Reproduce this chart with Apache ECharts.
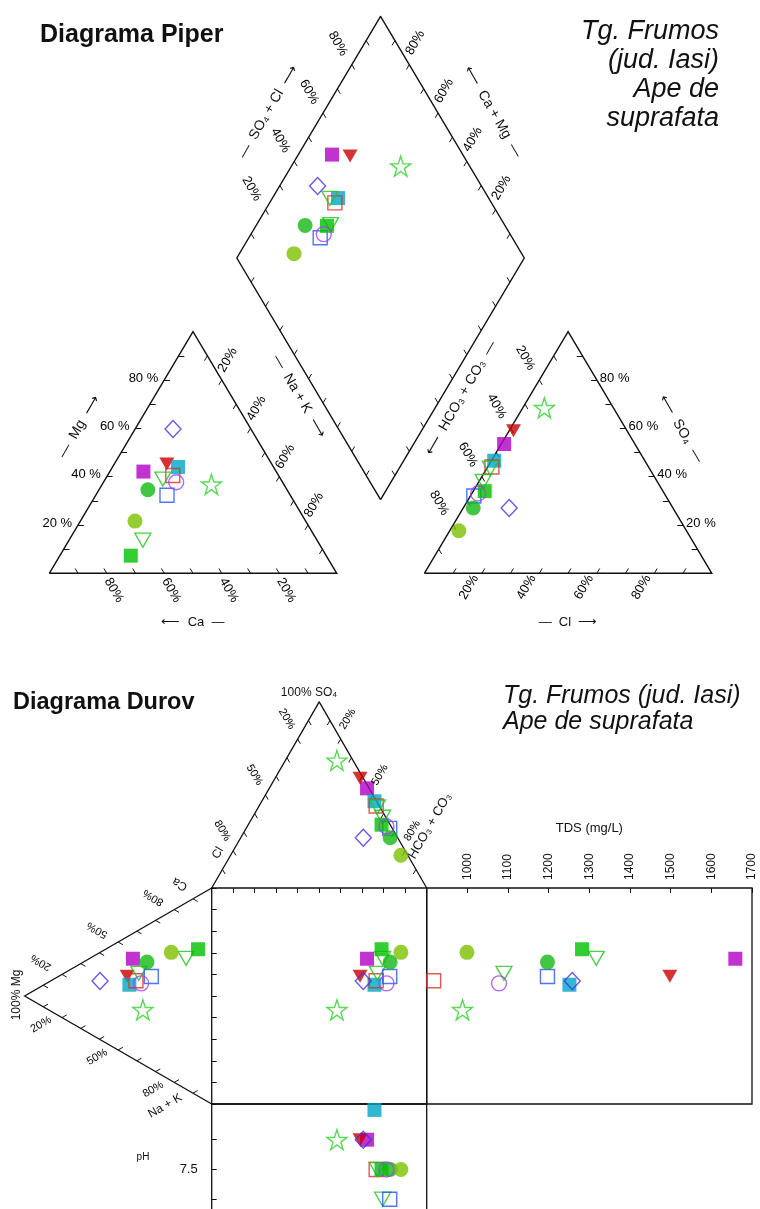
<!DOCTYPE html>
<html><head><meta charset="utf-8">
<script src="https://cdn.jsdelivr.net/npm/echarts@6/dist/echarts.min.js"></script>
<style>html,body{margin:0;padding:0;background:#fff}#c{width:760px;height:1209px}</style>
</head><body><div id="c"></div>
<script>
// ---------------- DATA ----------------
const sampleNames = ['P1','P2','P3','P4','P5','P6','P7','P8','P9','P10','P11','P12','P13'];
const caPct  = [46.2, 36.5, 33.2, 36.8, 41.0, 60.6, 42.9, 27.1, 68.0, 48.4, 59.4, 25.2, 37.0];
const mgPct  = [42.1, 45.2, 44.0, 40.5, 39.0, 13.7, 32.3, 59.7,  7.3, 34.6, 21.6, 36.8, 37.7];
const so4Pct = [53.5, 59.0, 46.6, 44.0, 43.5, 38.0, 32.0, 27.0, 34.0, 27.0, 17.6, 68.5, 33.0];
const clPct  = [ 1.0,  1.5,  1.0,  1.5,  1.2,  1.5,  1.2, 16.0,  4.0,  3.5,  3.2,  7.5,  2.2];
const tdsMgL = [1659, 1498, 1251, 917, 1090, 1317, 1197, 1258, 1282, 1197, 999, 988, 1078];
const phVal  = [7.6, 7.6, 7.7, 7.5, 7.5, 7.4, 7.4, 7.6, 7.5, 7.5, 7.5, 7.6, 7.5];
const piperTickLabels = [20, 40, 60, 80];
const durovTickLabels = [20, 50, 80];
const tenthTicks = [10, 20, 30, 40, 50, 60, 70, 80, 90];
const tdsTickLabels = [1000, 1100, 1200, 1300, 1400, 1500, 1600, 1700];
const phTickValues = [7.4, 7.5, 7.6];
const phTickLabels = [7.5];

// ---------------- STYLES ----------------
const FONT = '"Liberation Sans", Arial, Helvetica, sans-serif';
const INK = '#111111';
const STAR = 'path://M50 2 L61.8 37.6 L99 37.6 L69 59.6 L80.4 95 L50 73 L19.6 95 L31 59.6 L1 37.6 L38.2 37.6 Z';
const markerStyles = [
  {symbol:'rect', size:14, color:'#B000C4', fill:true},
  {symbol:'triangle', rot:180, size:[15,13], color:'#C80000', fill:true},
  {symbol:'rect', size:14, color:'#00A6C6', fill:true},
  {symbol:'rect', size:14, color:'#E02A2A', fill:false},
  {symbol:'triangle', rot:180, size:[16,14], color:'#22C022', fill:false},
  {symbol:'triangle', rot:180, size:[16,14], color:'#22C022', fill:false},
  {symbol:'rect', size:14, color:'#2255EE', fill:false},
  {symbol:'diamond', size:[16,17], color:'#4A2AE6', fill:false},
  {symbol:'rect', size:14, color:'#00C000', fill:true},
  {symbol:'circle', size:15, color:'#14B814', fill:true},
  {symbol:'circle', size:15, color:'#7CC000', fill:true},
  {symbol:STAR, size:20, color:'#2ED02E', fill:false},
  {symbol:'circle', size:15, color:'#A040F0', fill:false}
];

// ---------------- GEOMETRY ----------------
const GAP = 30.5;
const TH = 50 * Math.sqrt(3);
const BX = 100 + GAP / 2, BY = (GAP / 2) * Math.sqrt(3);
const PIPER_XMAX = 200 + GAP, PIPER_YMAX = BY + 2 * TH;
function pCat(ca, mg) { const nak = 100 - ca - mg; return [nak + mg / 2, mg * TH / 100]; }
function pAn(so4, cl) { return [100 + GAP + cl + so4 / 2, so4 * TH / 100]; }
function pDia(cm, sc) { const u = sc / 100, v = cm / 100; return [BX + 50 * (u - v), BY + TH * (u + v)]; }
const PG = {left: 49.3, top: 16.4, width: 662.5, height: 556.9};
const PX = PG.width / PIPER_XMAX, PY = PG.height / PIPER_YMAX;

const DPX = 2.15, DPY = 2.16;
const AH = TH * DPX / DPY;
const CW = TH * DPY / DPX;
function dAn(so4, cl) { const h = 100 - so4 - cl; return [h + so4 / 2, 100 + so4 * AH / 100]; }
function dCat(ca, mg) { return [-mg * CW / 100, ca + mg / 2]; }
const SQ_TOP = 888, SQ_BOT = 1104, SQ_LEFT = 211.7;
const DG = {left: SQ_LEFT - CW * DPX, top: SQ_BOT - (100 + AH) * DPY, width: (100 + CW) * DPX, height: (100 + AH) * DPY};

// ---------------- BUILD ----------------
const idx = sampleNames.map((_, i) => i);
function pt(i, xy) {
  const s = markerStyles[i];
  return {
    name: sampleNames[i], value: xy, symbol: s.symbol, symbolSize: s.size, symbolRotate: s.rot || 0,
    itemStyle: s.fill ? {color: s.color, borderWidth: 0}
                      : {color: 'rgba(255,255,255,0)', borderColor: s.color, borderWidth: 1.4}
  };
}
function scat(xi, yi, fn) {
  return {type: 'scatter', xAxisIndex: xi, yAxisIndex: yi, z: 5, clip: false, silent: true,
    emphasis: {disabled: true}, data: idx.map(i => pt(i, fn(i)))};
}
function linesSeries(xi, yi, segs, width, poly) {
  return {type: 'lines', coordinateSystem: 'cartesian2d', xAxisIndex: xi, yAxisIndex: yi, polyline: !!poly,
    silent: true, z: 3, lineStyle: {color: INK, width: width, opacity: 1},
    data: segs.map(c => ({coords: c}))};
}
function labelSeries(xi, yi, items, size) {
  return {type: 'scatter', xAxisIndex: xi, yAxisIndex: yi, symbolSize: 0, silent: true, clip: false, z: 10,
    emphasis: {disabled: true}, itemStyle: {color: '#000', opacity: 1},
    label: {show: true, position: 'inside', formatter: '{b}', color: '#000', opacity: 1, fontSize: size,
      fontFamily: FONT, textBorderWidth: 0},
    data: items};
}

// Piper frames & ticks
const TL = 2;
const piperFrames = [
  [pCat(100, 0), pCat(0, 0), pCat(0, 100), pCat(100, 0)],
  [pAn(0, 0), pAn(0, 100), pAn(100, 0), pAn(0, 0)],
  [pDia(0, 0), pDia(0, 100), pDia(100, 100), pDia(100, 0), pDia(0, 0)]
];
const piperTicks = [];
tenthTicks.forEach(t => {
  piperTicks.push([pCat(t, 0), pCat(t, TL)]);
  piperTicks.push([pCat(100 - t, t), pCat(100 - t - TL, t)]);
  piperTicks.push([pCat(0, 100 - t), pCat(TL, 100 - t - TL)]);
  piperTicks.push([pAn(0, t), pAn(TL, t)]);
  piperTicks.push([pAn(t, 100 - t), pAn(t, 100 - t - TL)]);
  piperTicks.push([pAn(100 - t, 0), pAn(100 - t - TL, TL)]);
  piperTicks.push([pDia(100, t), pDia(100 - TL, t)]);
  piperTicks.push([pDia(t, 100), pDia(t, 100 - TL)]);
  piperTicks.push([pDia(t, 0), pDia(t, TL)]);
  piperTicks.push([pDia(0, t), pDia(TL, t)]);
});
function pLab(xy, text, dx, dy, rot, align) {
  return {name: text, value: [xy[0] + dx / PX, xy[1] - dy / PY], label: {rotate: rot || 0, align: align || 'center'}};
}
const piperLabels = [];
piperTickLabels.forEach(t => {
  piperLabels.push(pLab(pCat(100 - t, t), t + ' %', -6, -2, 0, 'right'));
  piperLabels.push(pLab(pCat(t, 0), t + '%', 7, 17, -60));
  piperLabels.push(pLab(pCat(0, 100 - t), t + '%', 6, -20, 60));
  piperLabels.push(pLab(pAn(100 - t, 0), t + '%', -14, -22, -60));
  piperLabels.push(pLab(pAn(0, t), t + '%', -13, 14, 60));
  piperLabels.push(pLab(pAn(t, 100 - t), t + ' %', 3, -2, 0, 'left'));
  piperLabels.push(pLab(pDia(100, t), t + '%', -14, -21, -60));
  piperLabels.push(pLab(pDia(t, 100), t + '%', 6, -22, 60));
});

// Durov frames & ticks
const DTL = 2.5;
const durovFrames = [
  [dAn(0, 100), dAn(100, 0), dAn(0, 0)],
  [dCat(100, 0), dCat(0, 100), dCat(0, 0)]
];
const durovTicks = [];
tenthTicks.forEach(t => {
  durovTicks.push([dAn(100 - t, t), dAn(100 - t - DTL, t)]);
  durovTicks.push([dAn(100 - t, 0), dAn(100 - t - DTL, DTL)]);
  durovTicks.push([dCat(t, 100 - t), dCat(t, 100 - t - DTL)]);
  durovTicks.push([dCat(0, 100 - t), dCat(DTL, 100 - t - DTL)]);
});
function dLab(xy, text, dx, dy, rot) {
  return {name: text, value: [xy[0] + dx / DPX, xy[1] - dy / DPY], label: {rotate: rot || 0}};
}
const durovLabels = [];
durovTickLabels.forEach(t => {
  durovLabels.push(dLab(dAn(100 - t, t), t + '%', -11, -20, -60));
  durovLabels.push(dLab(dAn(100 - t, 0), t + '%', 7, -20, 60));
  durovLabels.push(dLab(dCat(t, 100 - t), t + '%', -21, -12, 150));
  durovLabels.push(dLab(dCat(0, 100 - t), t + '%', -21, 7, 30));
});

const series = [
  linesSeries(0, 0, piperFrames, 1.4, true),
  linesSeries(0, 0, piperTicks, 1, false),
  linesSeries(1, 1, durovFrames, 1.3, true),
  linesSeries(1, 1, durovTicks, 1, false),
  labelSeries(0, 0, piperLabels, 13),
  labelSeries(1, 1, durovLabels, 11),
  scat(0, 0, i => pCat(caPct[i], mgPct[i])),
  scat(0, 0, i => pAn(so4Pct[i], clPct[i])),
  scat(0, 0, i => pDia(caPct[i] + mgPct[i], so4Pct[i] + clPct[i])),
  scat(1, 1, i => dAn(so4Pct[i], clPct[i])),
  scat(1, 1, i => dCat(caPct[i], mgPct[i])),
  scat(2, 2, i => [dAn(so4Pct[i], clPct[i])[0], dCat(caPct[i], mgPct[i])[1]]),
  scat(3, 3, i => [tdsMgL[i], dCat(caPct[i], mgPct[i])[1]]),
  scat(4, 4, i => [dAn(so4Pct[i], clPct[i])[0], phVal[i]])
];

function T(x, y, text, o) {
  o = o || {};
  return {type: 'text', x: x, y: y, rotation: (o.rot || 0) * Math.PI / 180, silent: true, z: 100,
    style: {text: text, fill: INK, fontSize: o.size || 12, fontFamily: FONT, fontWeight: o.weight || 'normal',
      fontStyle: o.style || 'normal', align: o.align || 'center', textAlign: o.align || 'center',
      verticalAlign: 'middle', textVerticalAlign: 'middle'}};
}
const graphics = [
  T(40, 35, 'Diagrama Piper', {size: 25, weight: 'bold', align: 'left'}),
  T(719, 31, 'Tg. Frumos', {size: 27, style: 'italic', align: 'right'}),
  T(719, 60, '(jud. Iasi)', {size: 27, style: 'italic', align: 'right'}),
  T(719, 89, 'Ape de', {size: 27, style: 'italic', align: 'right'}),
  T(719, 118, 'suprafata', {size: 27, style: 'italic', align: 'right'}),
  T(268, 112, '—  SO₄ + Cl  ⟶', {size: 14, rot: 60}),
  T(493, 112, '⟵  Ca + Mg  —', {size: 14, rot: -60}),
  T(79, 427, '—  Mg  ⟶', {size: 14, rot: 60}),
  T(299, 396, '—  Na + K  ⟶', {size: 14, rot: -60}),
  T(193, 622, '⟵  Ca  —', {size: 13}),
  T(461, 398, '⟵  HCO₃ + CO₃  —', {size: 14, rot: 60}),
  T(568, 622, '—  Cl  ⟶', {size: 13}),
  T(681, 429, '⟵  SO₄  —', {size: 14, rot: -60}),
  T(13, 703, 'Diagrama Durov', {size: 23.5, weight: 'bold', align: 'left'}),
  T(503, 696, 'Tg. Frumos (jud. Iasi)', {size: 25, style: 'italic', align: 'left'}),
  T(503, 722, 'Ape de suprafata', {size: 25, style: 'italic', align: 'left'}),
  T(309, 693, '100% SO₄', {size: 12}),
  T(218, 853, 'Cl', {size: 12, rot: 60}),
  T(430, 826, 'HCO₃ + CO₃', {size: 13, rot: 60}),
  T(180, 884, 'Ca', {size: 12, rot: 150}),
  T(165, 1106, 'Na + K', {size: 12, rot: 30}),
  T(17, 995, '100% Mg', {size: 12, rot: 90}),
  T(143, 1157, 'pH', {size: 10})
];

const tickStyle = {show: true, inside: true, length: 5, lineStyle: {color: INK, width: 1}};
const gridBase = {containLabel: false, outerBoundsMode: 'none'};
const boxed = {show: true, borderColor: INK, borderWidth: 1.3, backgroundColor: 'rgba(0,0,0,0)'};

const option = {
  backgroundColor: '#fff',
  animation: false,
  textStyle: {fontFamily: FONT},
  grid: [
    Object.assign({}, gridBase, PG),
    Object.assign({}, gridBase, DG),
    Object.assign({}, gridBase, boxed, {left: SQ_LEFT, top: SQ_TOP, width: 215, height: SQ_BOT - SQ_TOP}),
    Object.assign({}, gridBase, boxed, {left: 426.7, top: SQ_TOP, width: 325.3, height: SQ_BOT - SQ_TOP}),
    Object.assign({}, gridBase, boxed, {left: SQ_LEFT, top: SQ_BOT, width: 215, height: 0.52 * 297.5})
  ],
  xAxis: [
    {gridIndex: 0, type: 'value', min: 0, max: PIPER_XMAX, show: false},
    {gridIndex: 1, type: 'value', min: -CW, max: 100, show: false},
    {gridIndex: 2, type: 'value', min: 0, max: 100, interval: 10, position: 'top',
      axisLine: {show: false, onZero: false}, axisTick: tickStyle, axisLabel: {show: false}, splitLine: {show: false}},
    {gridIndex: 3, type: 'value', min: 900, max: 1700, interval: 100, position: 'top',
      axisLine: {show: false, onZero: false}, axisTick: tickStyle, splitLine: {show: false},
      axisLabel: {rotate: -90, margin: 8, customValues: tdsTickLabels, formatter: v => String(v),
        fontSize: 12, color: INK, fontFamily: FONT},
      name: 'TDS (mg/L)', nameLocation: 'middle', nameGap: 53,
      nameTextStyle: {fontSize: 13, color: INK, fontFamily: FONT}},
    {gridIndex: 4, type: 'value', min: 0, max: 100, show: false}
  ],
  yAxis: [
    {gridIndex: 0, type: 'value', min: 0, max: PIPER_YMAX, show: false},
    {gridIndex: 1, type: 'value', min: 0, max: 100 + AH, show: false},
    {gridIndex: 2, type: 'value', min: 0, max: 100, interval: 10, position: 'left',
      axisLine: {show: false, onZero: false}, axisTick: tickStyle, axisLabel: {show: false}, splitLine: {show: false}},
    {gridIndex: 3, type: 'value', min: 0, max: 100, show: false},
    {gridIndex: 4, type: 'value', min: 7.2, max: 7.72, position: 'left',
      axisLine: {show: false, onZero: false}, splitLine: {show: false},
      axisTick: Object.assign({}, tickStyle, {customValues: phTickValues}),
      axisLabel: {customValues: phTickLabels, formatter: v => v.toFixed(1), fontSize: 13, margin: 14,
        color: INK, fontFamily: FONT}}
  ],
  graphic: graphics,
  series: series
};
const chart = echarts.init(document.getElementById('c'));
chart.setOption(option);
</script>
</body></html>
